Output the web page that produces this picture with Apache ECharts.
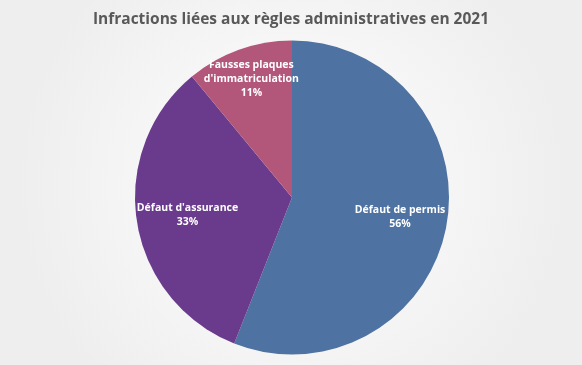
<!DOCTYPE html>
<html><head><meta charset="utf-8">
<script src="https://cdn.jsdelivr.net/npm/echarts@6/dist/echarts.min.js"></script>
<style>html,body{margin:0;padding:0;}#c{width:582px;height:365px;}</style>
</head><body><div id="c"></div>
<script>
const categories = ["Défaut de permis", "Défaut d'assurance", "Fausses plaques\nd'immatriculation"];
const values = [56, 33, 11];
const colors = ["#4E72A1", "#6A3A8D", "#B3577A"];
const labelShift = [[28, 4], [-24, 5], [-13, -42]];

const chart = echarts.init(document.getElementById('c'));
chart.setOption({
  backgroundColor: {type: 'radial', x: 0.5, y: 0.5, r: 0.75,
    colorStops: [{offset: 0, color: '#ffffff'}, {offset: 1, color: '#eeeeee'}]},
  animation: false,
  title: {
    text: 'Infractions liées aux règles administratives en 2021',
    left: 'center', top: 7,
    textStyle: {fontFamily: 'Open Sans', fontWeight: 'bold', fontSize: 15.5, color: '#595959'}
  },
  series: [{
    type: 'pie',
    center: [292, 197.5],
    radius: [0, 157],
    startAngle: 90,
    clockwise: true,
    data: categories.map((n, i) => ({name: n, value: values[i], itemStyle: {color: colors[i]}})),
    label: {
      show: true, position: 'inside',
      formatter: p => p.name + '\n' + Math.round(p.percent) + '%',
      fontFamily: 'Open Sans', fontWeight: 'bold', fontSize: 10.5, color: '#ffffff', lineHeight: 14
    },
    labelLayout: p => ({dx: labelShift[p.dataIndex][0], dy: labelShift[p.dataIndex][1]}),
    labelLine: {show: false}
  }]
});
</script></body></html>
